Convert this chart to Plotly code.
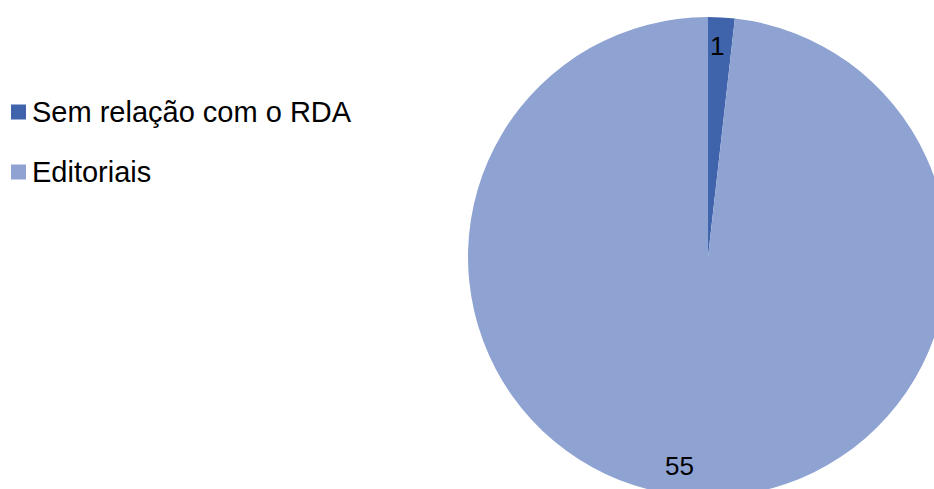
import math
import plotly.graph_objects as go

labels = ["Sem relação com o RDA", "Editoriais"]
values = [1, 55]
colors = ["#3F64AB", "#8FA3D3"]

W, H = 950, 500
cx, cy, R = 708, 257, 240  # pie centre/radius in pixels

fig = go.Figure(go.Pie(
    labels=labels, values=values, sort=False, direction="clockwise", rotation=0,
    marker=dict(colors=colors, line=dict(width=0)),
    textinfo="none", hoverinfo="label+value", showlegend=False,
    domain=dict(x=[(cx - R) / W, (cx + R) / W], y=[(H - cy - R) / H, (H - cy + R) / H]),
))

font = dict(family="Liberation Sans, Arial, sans-serif", color="#000000")

# value labels placed near the rim of each slice
total = sum(values)
start = 0.0
for i, v in enumerate(values):
    frac = v / total * 360
    mid = start + frac * (0.4 if i == 0 else 0.513)
    start += frac
    rr = 0.88 * R
    px = cx + rr * math.sin(math.radians(mid))
    py = cy - rr * math.cos(math.radians(mid))
    fig.add_annotation(x=px / W, y=1 - py / H, xref="paper", yref="paper",
                       text=str(v), showarrow=False, font=dict(size=26, **font),
                       xanchor="center", yanchor="middle")

# legend
leg_y = [112, 172]
for lab, col, ly in zip(labels, colors, leg_y):
    fig.add_shape(type="rect", xref="paper", yref="paper",
                  x0=11 / W, x1=26 / W, y0=1 - (ly + 7.5) / H, y1=1 - (ly - 7.5) / H,
                  fillcolor=col, line=dict(width=0))
    fig.add_annotation(x=30 / W, y=1 - ly / H, xref="paper", yref="paper",
                       text=lab, showarrow=False, font=dict(size=29, **font),
                       xanchor="left", yanchor="middle")

fig.update_layout(width=W, height=H, margin=dict(l=0, r=0, t=0, b=0),
                  paper_bgcolor="white", plot_bgcolor="white")
fig.write_html("out.html")
